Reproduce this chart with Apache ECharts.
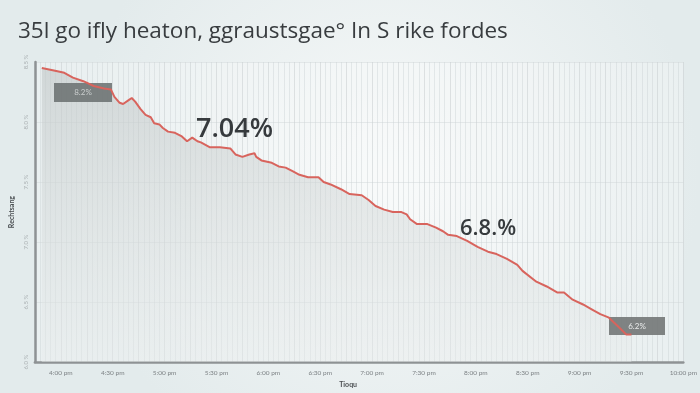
<!DOCTYPE html>
<html>
<head>
<meta charset="utf-8">
<script src="https://cdn.jsdelivr.net/npm/echarts@6/dist/echarts.min.js"></script>
<style>
html,body{margin:0;padding:0;background:#e9eff0;}
#c{width:700px;height:393px;}
</style>
</head>
<body>
<div id="c"></div>
<script>
// minutes after noon
const times = [229,236,242,247,253,259,265,269,271,274,276,279,281,283,286,289,292,294,297,299,302,306,310,313,316,319,321,326,332,338,341,345,349,352,353,356,362,366,370,374,378,383,389,392,396,402,407,414,418,422,427,432,437,440,442,446,452,457,461,464,469,475,481,487,492,498,504,507,515,521,527,531,536,542,547,552,557,562,567,570];
const rates = [8.45,8.43,8.41,8.37,8.34,8.30,8.28,8.27,8.21,8.16,8.15,8.18,8.20,8.17,8.11,8.06,8.04,7.99,7.98,7.95,7.92,7.91,7.88,7.84,7.87,7.84,7.83,7.79,7.79,7.78,7.73,7.71,7.73,7.74,7.71,7.68,7.66,7.63,7.62,7.59,7.56,7.54,7.54,7.50,7.48,7.44,7.40,7.39,7.35,7.30,7.27,7.25,7.25,7.23,7.19,7.15,7.15,7.12,7.09,7.06,7.05,7.01,6.96,6.92,6.90,6.86,6.81,6.76,6.67,6.63,6.58,6.58,6.52,6.48,6.44,6.40,6.37,6.30,6.23,6.23];
const tickLabels = ['4:00 pm','4:30 pm','5:00 pm','5:30 pm','6:00 pm','6:30 pm','7:00 pm','7:30 pm','8:00 pm','8:30 pm','9:00 pm','9:30 pm','10:00 pm'];
const yTickLabels = ['6.0 %','6.5 %','7.0 %','7.5 %','8.0 %','8.5 %'];
const titleText = '35l go ifly heaton, ggraustsgae° In S rike fordes';
const startLabel = '8.2%';
const endLabel = '6.2%';
const midLabels = ['7.04%','6.8.%'];

const pts = times.map((t,i)=>[t,rates[i]]);
const chart = echarts.init(document.getElementById('c'));
chart.setOption({
  backgroundColor: {type:'radial',x:0.55,y:0.45,r:0.8,colorStops:[{offset:0,color:'#f7f9f9'},{offset:1,color:'#e3ebec'}]},
  animation:false,
  title:{text:titleText,left:13,top:15,textStyle:{fontFamily:'Open Sans',fontSize:22.5,fontWeight:500,color:'#383c3f'}},
  grid:{left:31,right:15,top:62,bottom:30,show:true,backgroundColor:'rgba(255,255,255,0.25)',borderWidth:0},
  xAxis:{type:'value',min:225,max:600,interval:15,
    axisLine:{show:true,lineStyle:{color:'#8e9294',width:2.5}},
    axisTick:{show:false},
    axisLabel:{fontFamily:'Lato',fontSize:6.5,color:'#7d8285',margin:7,
      formatter:v=> (v-240)%30===0 && v>=240 ? tickLabels[(v-240)/30] : ''},
    splitLine:{show:true,lineStyle:{color:'rgba(200,206,208,0.55)',width:1}},
    minorTick:{show:false,splitNumber:5},
    minorSplitLine:{show:true,lineStyle:{color:'rgba(205,211,213,0.45)',width:1}},
    name:'Tioqu',nameLocation:'middle',nameGap:16,
    nameTextStyle:{fontFamily:'Lato',fontSize:7,fontWeight:'bold',color:'#4a4e51',padding:[0,22,0,0]}
  },
  yAxis:{type:'value',min:6,max:8.5,interval:0.5,
    axisLine:{show:true,lineStyle:{color:'#8e9294',width:2.5}},
    axisTick:{show:false},
    axisLabel:{fontFamily:'Lato',fontSize:6,color:'#a9afb1',rotate:90,margin:6,
      formatter:v=>yTickLabels[Math.round((v-6)/0.5)]},
    splitLine:{show:true,lineStyle:{color:'rgba(210,215,217,0.5)'}},
    name:'Rechtsang',nameLocation:'middle',nameGap:18,nameRotate:90,
    nameTextStyle:{fontFamily:'Lato',fontSize:7,fontWeight:'bold',color:'#4a4e51'}
  },
  series:[
    {type:'line',data:pts,showSymbol:false,z:1,lineStyle:{width:0},
     areaStyle:{color:{type:'linear',x:0,y:0,x2:0,y2:1,colorStops:[{offset:0,color:'rgba(192,198,198,0.85)'},{offset:1,color:'rgba(232,236,236,0.6)'}]}}},
    {type:'line',data:pts,showSymbol:false,z:5,lineStyle:{color:'#d8645d',width:2}}
  ],
  graphic:[
    {type:'rect',z:3,shape:{x:54,y:83,width:58,height:19},style:{fill:'rgba(105,110,110,0.85)'}},
    {type:'text',z:4,style:{x:83,y:92.5,text:startLabel,fill:'#c9cdcd',font:'8px Lato',align:'center',verticalAlign:'middle'}},
    {type:'rect',z:3,shape:{x:609,y:317,width:56,height:18},style:{fill:'rgba(115,119,119,0.9)'}},
    {type:'text',z:6,style:{x:637,y:326,text:endLabel,fill:'#e8eaea',font:'8px Lato',align:'center',verticalAlign:'middle'}},
    {type:'text',z:6,style:{x:196,y:129,text:midLabels[0],fill:'#363a3d',font:'600 27px "Open Sans"',verticalAlign:'middle'}},
    {type:'text',z:6,style:{x:460,y:229,text:midLabels[1],fill:'#363a3d',font:'600 22px "Open Sans"',verticalAlign:'middle'}}
  ]
});
</script>
</body>
</html>
